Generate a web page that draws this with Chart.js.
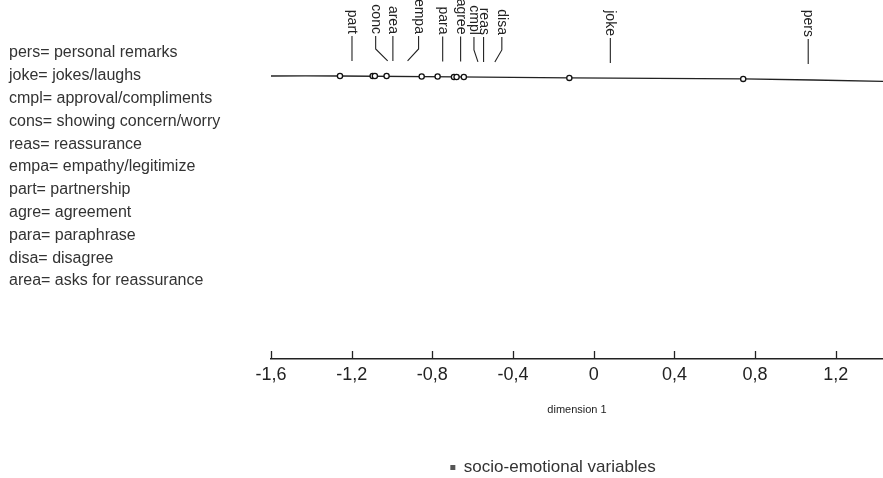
<!DOCTYPE html>
<html><head><meta charset="utf-8">
<script src="https://cdn.jsdelivr.net/npm/chart.js@4/dist/chart.umd.min.js"></script>
<style>html,body{margin:0;padding:0;background:#fff;} #wrap{width:883px;height:478px;position:relative;}</style>
</head><body><div id="wrap"><canvas id="c" width="883" height="478"></canvas></div>
<script>
// ---- data ----
const codes = ['part','conc','area','empa','para','agree','cmpl','reas','disa','joke','pers'];
const dim1 = [-1.258,-1.096,-1.085,-1.027,-0.853,-0.774,-0.693,-0.680,-0.644,-0.121,0.741];
const dim2 = [0,0,0,0,-0.005,-0.005,-0.01,-0.01,-0.01,-0.02,-0.03];
const curveX = [-1.6,-1.258,-0.121,0.741,1.434];
const curveY = [0,0,-0.02,-0.03,-0.055];
const tickValues = [-1.6,-1.2,-0.8,-0.4,0,0.4,0.8,1.2];
const keyCodes = ['pers','joke','cmpl','cons','reas','empa','part','agre','para','disa','area'];
const keyNames = ['personal remarks','jokes/laughs','approval/compliments','showing concern/worry','reassurance','empathy/legitimize','partnership','agreement','paraphrase','disagree','asks for reassurance'];
const axisTitle = 'dimension 1';
const seriesName = 'socio-emotional variables';

// ---- layout (pixel offsets of the point labels, relative to their points) ----
const labelShift  = [12, 3, 18, 32, 21, 23, 20, 27, 38, 41, 65];
const leaderShift = [12, 15, 18, 21, 21, 23, 24, 27, 31, 41, 65];

Chart.defaults.font.family = "'Liberation Sans', Arial, sans-serif";
Chart.defaults.color = '#222';

const upTicks = {
  id: 'upTicks',
  afterDraw(chart) {
    const xs = chart.scales.x, ctx = chart.ctx;
    ctx.save();
    ctx.strokeStyle = '#222'; ctx.lineWidth = 1.3;
    xs.ticks.forEach(t => {
      const x = Math.round(xs.getPixelForValue(t.value)) + 0.5;
      ctx.beginPath(); ctx.moveTo(x, xs.top); ctx.lineTo(x, xs.top - 8); ctx.stroke();
    });
    ctx.restore();
  }
};

const pointLabels = {
  id: 'pointLabels',
  afterDatasetsDraw(chart) {
    const xs = chart.scales.x, ys = chart.scales.y, ctx = chart.ctx;
    ctx.save();
    ctx.font = "14px 'Liberation Sans', Arial, sans-serif";
    ctx.fillStyle = '#222'; ctx.strokeStyle = '#222'; ctx.lineWidth = 1.1;
    codes.forEach((c, i) => {
      const px = xs.getPixelForValue(dim1[i]);
      const py = ys.getPixelForValue(dim2[i]);
      const tx = px + labelShift[i], lx = px + leaderShift[i];
      const textEnd = py - 42, leadEnd = py - 15;
      ctx.save();
      ctx.translate(tx, textEnd);
      ctx.rotate(Math.PI / 2);
      ctx.textAlign = 'right'; ctx.textBaseline = 'middle';
      ctx.fillText(c, 0, 0);
      ctx.restore();
      ctx.beginPath();
      ctx.moveTo(tx, textEnd + 2);
      if (Math.abs(tx - lx) > 1) { ctx.lineTo(tx, leadEnd - 12); }
      ctx.lineTo(lx, leadEnd);
      ctx.stroke();
    });
    ctx.restore();
  }
};

const keyList = {
  id: 'keyList',
  afterDraw(chart) {
    const ctx = chart.ctx;
    ctx.save();
    ctx.font = "16px 'Liberation Sans', Arial, sans-serif";
    ctx.fillStyle = '#333'; ctx.textAlign = 'left'; ctx.textBaseline = 'middle';
    keyCodes.forEach((k, i) => ctx.fillText(k + '= ' + keyNames[i], 9, 53 + 22.8 * i));
    ctx.restore();
  }
};

const legendShift = {
  id: 'legendShift',
  afterLayout(chart) {
    const lg = chart.legend; if (!lg) return;
    lg.left -= 24; lg.right -= 24; lg.top += 8; lg.bottom += 8;
  }
};

new Chart(document.getElementById('c'), {
  type: 'scatter',
  data: {
    datasets: [
      {
        label: seriesName,
        data: dim1.map((v, i) => ({x: v, y: dim2[i]})),
        pointRadius: 2.6, pointBorderWidth: 1.3,
        pointBackgroundColor: '#fff', pointBorderColor: '#111',
        showLine: false, order: 0
      },
      {
        label: 'curve',
        data: curveX.map((v, i) => ({x: v, y: curveY[i]})),
        showLine: true, borderColor: '#222', borderWidth: 1.4,
        pointRadius: 0, tension: 0.3, order: 1
      }
    ]
  },
  options: {
    responsive: false, animation: false,
    layout: {autoPadding: false, padding: {left: 271, right: 0, top: 0, bottom: 0}},
    scales: {
      x: {
        type: 'linear', min: -1.6, max: 1.434,
        afterBuildTicks: s => { s.ticks = tickValues.map(v => ({value: v})); },
        ticks: {
          padding: 5, font: {size: 18}, color: '#222',
          callback: v => String(Math.round(v * 10) / 10).replace('.', ',')
        },
        grid: {display: true, drawOnChartArea: false, drawTicks: false},
        border: {display: true, color: '#222', width: 1.4},
        title: {display: true, text: axisTitle, font: {size: 11}, color: '#222', padding: {top: 12.8, bottom: 30.4}}
      },
      y: {display: false, min: -2.87, max: 0.77}
    },
    plugins: {
      legend: {
        position: 'bottom',
        labels: {
          padding: 4, font: {size: 17}, color: '#333',
          usePointStyle: true, boxWidth: 5, boxHeight: 5,
          generateLabels: () => [{text: seriesName, fillStyle: '#555', strokeStyle: '#555', lineWidth: 0, pointStyle: 'rect', datasetIndex: 0, hidden: false, fontColor: '#333'}]
        }
      },
      tooltip: {enabled: false}
    }
  },
  plugins: [upTicks, pointLabels, keyList, legendShift]
});
</script>
</body></html>
